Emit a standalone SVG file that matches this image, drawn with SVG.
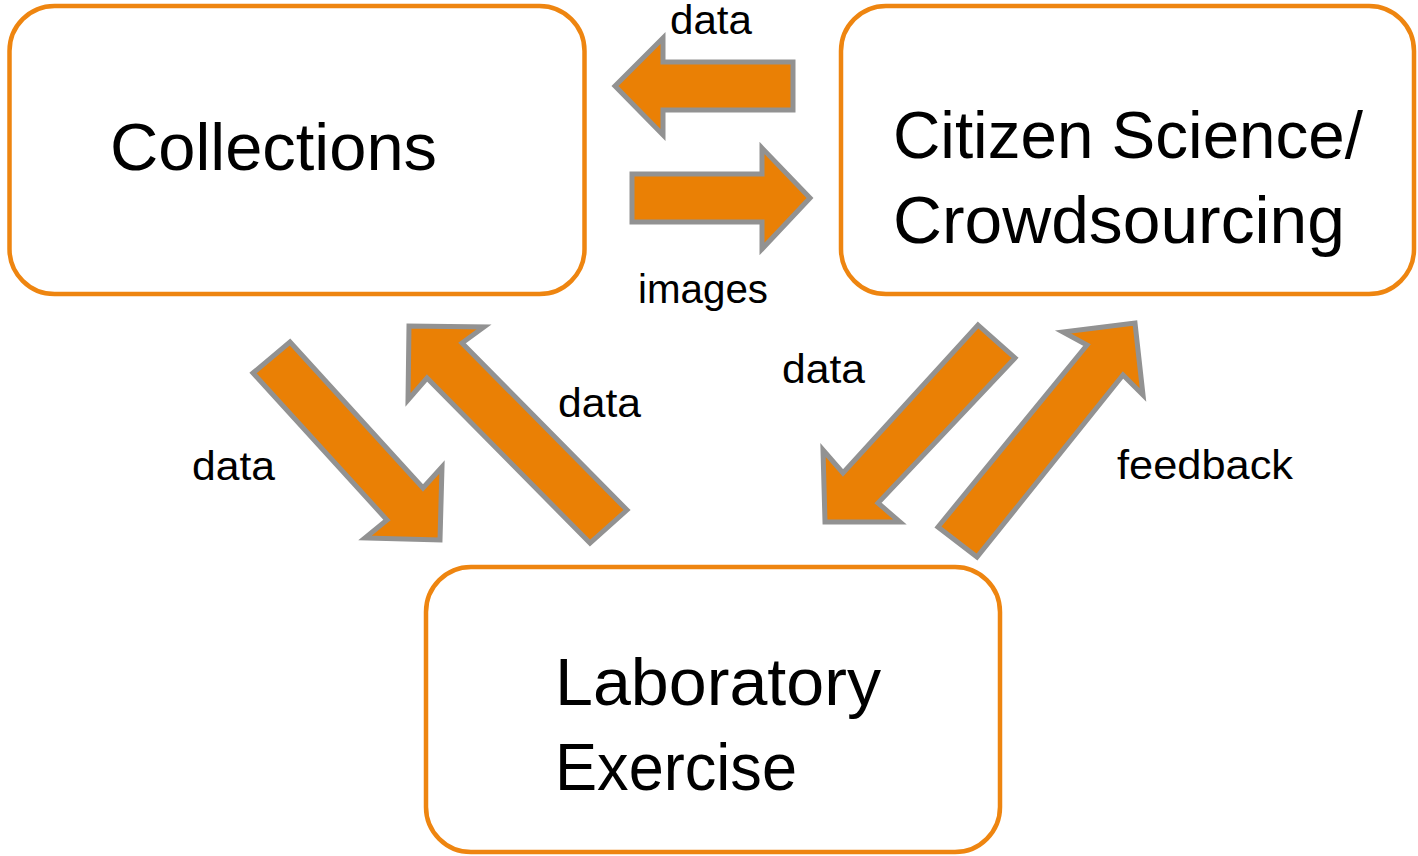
<svg xmlns="http://www.w3.org/2000/svg" width="1418" height="856" viewBox="0 0 1418 856">
<style>
.box{fill:#FFFFFF;stroke:#EE8510;stroke-width:4.5}
.big{font-family:"Liberation Sans",Arial,sans-serif;font-size:66px;fill:#000000}
.lbl{font-family:"Liberation Sans",Arial,sans-serif;font-size:40px;fill:#000000}
.arr{fill:#EA8005;stroke:#929292;stroke-width:5;stroke-linejoin:miter}
</style>
<rect width="1418" height="856" fill="#FFFFFF"/>
<g id="collections">
<rect class="box" x="9.5" y="6" width="575" height="288" rx="45" ry="45"/>
<text class="big" x="110" y="170" textLength="327" lengthAdjust="spacingAndGlyphs">Collections</text>
</g>
<g id="citizen-science">
<rect class="box" x="841" y="6" width="573" height="288" rx="45" ry="45"/>
<text class="big" x="893" y="158" textLength="470" lengthAdjust="spacingAndGlyphs">Citizen Science/</text>
<text class="big" x="893" y="243" textLength="452" lengthAdjust="spacingAndGlyphs">Crowdsourcing</text>
</g>
<g id="laboratory">
<rect class="box" x="426" y="567" width="574" height="285" rx="45" ry="45"/>
<text class="big" x="555" y="705" textLength="326" lengthAdjust="spacingAndGlyphs">Laboratory</text>
<text class="big" x="555" y="790" textLength="242" lengthAdjust="spacingAndGlyphs">Exercise</text>
</g>
<g id="connectors">
<polygon class="arr" points="615,86 663,38 663,62 793,62 793,110 663,110 663,135"/>
<polygon class="arr" points="810,198 762,148 762,174 632,174 632,222 762,222 762,249"/>
<polygon class="arr" points="253,373 290,342 423,488 442,467 440,540 365,538 387,520"/>
<polygon class="arr" points="627,510 462,343 484,327 409,326 408,400 427,378 590,543"/>
<polygon class="arr" points="978,325 1015,358 878,503 900,522 825,522 823,450 843,473"/>
<polygon class="arr" points="938,527 1087,345 1063,332 1135,323 1143,395 1123,375 977,557"/>
<text class="lbl" x="670" y="34" textLength="82" lengthAdjust="spacingAndGlyphs">data</text>
<text class="lbl" x="638" y="303" textLength="130" lengthAdjust="spacingAndGlyphs">images</text>
<text class="lbl" x="192" y="480" textLength="83" lengthAdjust="spacingAndGlyphs">data</text>
<text class="lbl" x="558" y="417" textLength="83" lengthAdjust="spacingAndGlyphs">data</text>
<text class="lbl" x="782" y="383" textLength="83" lengthAdjust="spacingAndGlyphs">data</text>
<text class="lbl" x="1117" y="479" textLength="176" lengthAdjust="spacingAndGlyphs">feedback</text>
</g>
</svg>
